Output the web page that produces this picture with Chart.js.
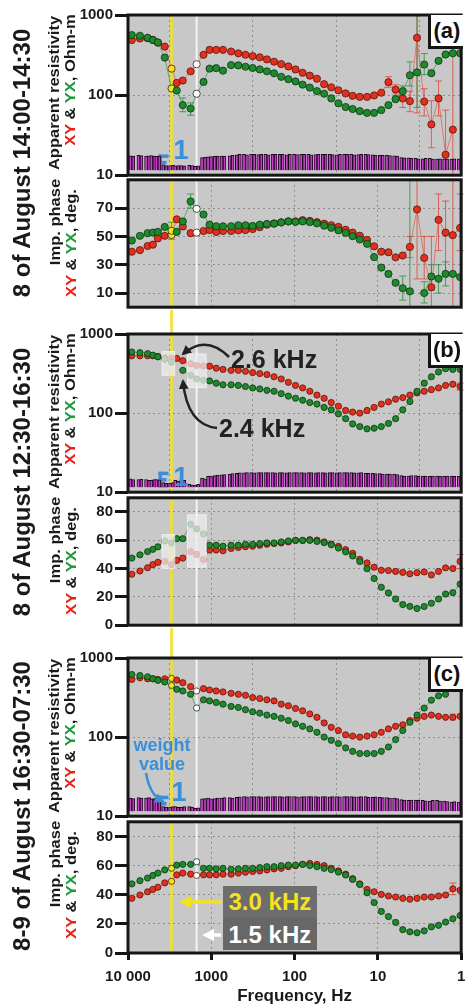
<!DOCTYPE html>
<html><head><meta charset="utf-8">
<script src="https://cdn.jsdelivr.net/npm/chart.js@4.4.1/dist/chart.umd.min.js"></script>
<style>
html,body{margin:0;padding:0;background:#fff;}
#wrap{position:relative;width:466px;height:1008px;overflow:hidden;font-family:"Liberation Sans",Arial,Helvetica,sans-serif;color:#1a1a1a;}
#wrap canvas{position:absolute;left:0;}
.rot,.txt{position:absolute;white-space:nowrap;line-height:1;}
.red{color:#e8221a}.grn{color:#1d9a3a}
.pbox{position:absolute;box-sizing:border-box;background:#fff;border-left:3px solid #151515;border-bottom:3px solid #151515;}
.kbox{position:absolute;background:#6d6d6d;}
svg{position:absolute;left:0;top:0;}
</style></head>
<body><div id="wrap">
<canvas id="ra"></canvas><canvas id="pa"></canvas>
<canvas id="rb"></canvas><canvas id="pb"></canvas>
<canvas id="rc"></canvas><canvas id="pc"></canvas>
</div>
<script>
// ---------------- DATA ----------------
const FREQ_HZ = [9000,7190,5820,5030,4380,3620,3000,2600,2200,1770,1500,1240,1050,873,724,578,474,389,319,262,215,176.5,144.8,118.9,97.5,80.1,65.7,53.9,44.2,36.3,29.8,24.4,20.1,16.5,13.5,11.1,9.10,7.47,6.13,5.03,4.13,3.39,2.78,2.28,1.87,1.54,1.26,1.03];
const X_TICKS = [10000,1000,100,10,1];
const X_TICK_LABELS = ['10 000','1000','100','10','1'];
const RHO_TICKS = [10,100,1000];
const PHASE_TICKS_A = [10,30,50,70];
const PHASE_TICKS_BC = [0,10,20,30,40,50,60,70,80];
const YELLOW_LINE_HZ = 3000, WHITE_LINE_HZ = 1500;

// panel (a) 8 Aug 14:00-14:30
const rhoXY_a = [487,509,513,490,451,403,214,142,152,198,243,318,367,367,367,350,332,319,307,296,279,261,244,228,209,190,175,160,137,125,115,105,98,95,95,99,107,145,117,91,84,520,83,43,91,18,37,null];
const rhoYX_a = [561,551,520,487,455,294,121,114,75,68,104,146,214,217,202,237,235,226,218,209,198,187,169,158,148,135,124,112,104,91,79,71,67,63,60,60,65,75,89,112,177,192,241,188,268,321,333,333];
const phiXY_a = [39.2,40.3,43.2,44.2,48.6,50.4,51,62.1,57,52.3,52.7,53.8,54.5,53.2,53.8,53.8,54.3,54.5,55.2,56.5,58.3,59.2,59.9,60.6,60.6,61.5,61.0,60.1,59.0,57.9,56.7,54.7,52.7,50.5,47.5,43.0,39.2,38.8,35.2,36.5,42.6,69.1,34.8,14.1,61.7,52.7,50.9,56];
const phiYX_a = [47.1,50.4,52.3,52.7,53.2,56.7,54,53.2,60.6,74.7,69.5,65.5,58.3,57.2,57.2,57.2,57.9,57.9,57.4,58.3,58.8,59.0,59.9,60.6,60.3,60.6,60.1,59.2,57.6,56.1,54.3,52.5,50.2,47.8,44.8,35.4,28.0,23.5,17.2,13.4,11.2,null,10.0,21.7,20.1,23.5,23.5,21.3];
const wXY_a = [0.92,0.95,0.9,0.93,0.88,0.35,0.3,0.28,0.3,0.32,0.25,0.8,0.85,0.88,0.9,0.92,0.98,1,1,0.99,1,1,1,0.98,1,1,1,0.99,1,1,0.98,1,1,0.99,1,0.98,0.95,0.95,0.92,0.8,0.78,0.75,0.72,0.75,0.7,0.72,0.7,0.72];
const wYX_a = [0.9,0.93,0.92,0.9,0.9,0.3,0.32,0.3,0.28,0.3,0.28,0.82,0.86,0.9,0.9,0.95,1,0.98,1,1,0.98,1,1,1,0.99,1,0.98,1,1,0.99,1,1,0.98,1,0.99,0.96,0.95,0.93,0.9,0.78,0.75,0.72,0.75,0.7,0.72,0.7,0.72,0.7];
const errRhoXY_a = {37:[125,170],38:[100,135],39:[70,115],40:[62,112],41:[60,2000],42:[55,120],43:[22,85],44:[55,150],45:[12,65],46:[9,2000]};
const errRhoYX_a = {8:[62,92],9:[56,80],39:[95,130],40:[130,260],41:[70,2000],42:[180,330]};
const errPhiXY_a = {40:[35,50],41:[20,95],42:[20,50],43:[0,50],44:[40,80],45:[25,75],46:[0,95],47:[40,80]};
const errPhiYX_a = {6:[48,60],9:[70,80],39:[5,22],40:[0,95],42:[3,18],43:[12,30],44:[10,30],45:[15,32]};

// panel (b) 8 Aug 12:30-16:30
const rhoXY_b = [530,530,530,530,520,500,490,491,460,420,400,395,392,370,357,347,347,338,325,316,307,288,270,245,224,208,189,169,154,136,122,108,103,100,108,118,130,139,150,157,169,180,189,198,208,224,232,217];
const rhoYX_b = [592,581,565,540,514,480,440,null,347,300,270,260,255,239,228,228,224,217,208,202,194,189,176,164,154,145.5,136,130,118,110,98,85,73,67.5,63.2,64.4,67.5,74,85,110,140,189,239,288,331,364,357,357];
const phiXY_b = [36.0,38.3,40.6,42.8,44.4,45.1,42.8,45.8,47.4,52.0,50,46.3,53.1,53.1,52.6,54.2,54.9,55.4,55.8,56.5,57.2,57.7,58.1,58.8,59.9,59.9,60.4,60.1,58.8,57.3,55.7,53.4,50.8,46.6,44.0,41.0,38.8,38.6,38.0,37.3,36.3,37.1,37.6,35.5,38.0,40.5,40.0,45.1];
const phiYX_b = [47.4,49.7,52.0,53.6,55.4,59.5,58.1,61.1,61.1,71.3,68,64.5,56.5,56.5,55.8,56.5,56.5,57.2,57.2,57.7,58.1,58.1,58.8,59.5,59.9,59.9,59.9,59.2,58.3,56.8,54.5,51.8,48.9,45.0,39.9,33.0,26.8,22.8,18.5,14.6,13.3,11.8,13.2,15.5,18.5,22.0,23.0,29];
const wXY_b = [0.55,0.5,0.5,0.45,0.5,0.3,0.25,0.45,0.5,0.2,0.15,0.6,0.7,0.75,0.8,0.85,0.9,0.92,0.95,0.95,0.95,0.95,0.95,0.92,0.95,0.95,0.95,0.92,0.95,0.95,0.92,0.95,0.95,0.92,0.9,0.9,0.88,0.85,0.85,0.75,0.72,0.75,0.72,0.7,0.72,0.7,0.72,0.7];
const wYX_b = [0.5,0.52,0.45,0.5,0.48,0.25,0.3,0.4,0.45,0.15,0.2,0.55,0.72,0.78,0.82,0.88,0.92,0.95,0.92,0.95,0.95,0.92,0.95,0.95,0.95,0.92,0.95,0.95,0.92,0.95,0.95,0.95,0.92,0.95,0.9,0.88,0.85,0.85,0.82,0.72,0.75,0.7,0.72,0.72,0.7,0.72,0.7,0.72];
const errRhoXY_b = {47:[195,240]};
const errPhiXY_b = {47:[40,50]};
const MASKS_B_RHO = [[3900,2750,300,600],[1930,1150,210,560]];
const MASKS_B_PHI = [[3900,2750,40,64],[1930,1150,41,78]];

// panel (c) 8-9 Aug 16:30-07:30
const rhoXY_c = [536,562,546,546,536,546,552,526,487,434,383,410,394,383,372,358,348,338,316,307,296,287,261,249,230,215,196,178,151,133,121,107,103,100,103,107,115,127,137,143,162,173,183,190,183,178,178,183];
const rhoYX_c = [619,601,579,546,521,497,451,402,383,348,233,296,287,274,261,244,237,222,209,201,190,183,173,162,147,137,127,115,100,91,83,73,66,62,62,62,66,75,93,121,154,190,233,293,332,348,null,null];
const phiXY_c = [37.5,39.8,42.0,43.6,45.1,48.1,49.2,53.6,54.8,54.1,53.2,53.6,53.6,53.6,54.1,54.1,54.8,55.4,55.9,56.3,57.0,57.7,58.1,59.2,59.9,60.8,61.5,60.8,59.9,58.1,56.3,54.1,51.0,47.4,43.6,42.0,40.2,39.1,38.4,37.5,36.9,37.5,38.4,38.4,39.1,39.8,44,43];
const phiYX_c = [47.4,49.6,51.4,53.2,54.8,57.0,58.1,60.3,60.8,60.8,62.6,58.1,58.1,57.7,58.1,57.4,57.7,58.1,58.1,58.6,59.2,59.2,59.9,60.3,60.3,60.8,60.0,59.2,58.1,57.2,55.5,53.5,50.5,47.0,41.3,34.6,28.5,25.0,21.0,16.0,14.5,13.9,15.2,17.9,19.0,21.2,23.5,25.7];
const wXY_c = [0.85,0.88,0.85,0.8,0.82,0.3,0.28,0.3,0.25,0.3,0.2,0.8,0.85,0.82,0.85,0.88,0.9,0.95,0.95,0.95,0.92,0.95,0.95,0.95,0.95,0.92,0.95,0.95,0.95,0.92,0.95,0.95,0.95,0.92,0.95,0.9,0.9,0.88,0.85,0.75,0.7,0.72,0.7,0.65,0.7,0.65,0.6,0.6];
const wYX_c = [0.82,0.85,0.88,0.82,0.8,0.28,0.3,0.25,0.3,0.28,0.22,0.82,0.8,0.85,0.88,0.85,0.92,0.92,0.95,0.92,0.95,0.95,0.92,0.95,0.92,0.95,0.95,0.92,0.95,0.95,0.92,0.95,0.92,0.95,0.9,0.92,0.88,0.85,0.82,0.72,0.72,0.7,0.68,0.7,0.65,0.62,0.62,0.6];
const errRhoXY_c = {46:[165,195]};
const errPhiXY_c = {46:[40,48]};

// ---------------- STYLE ----------------
const FONT = "'Liberation Sans', Arial, sans-serif";
const RED = '#e3301e', RED_EDGE = '#5a140a', RED_LINE = 'rgba(226,70,55,0.6)';
const GRN = '#1e8a2d', GRN_EDGE = '#0b3512', GRN_LINE = 'rgba(40,140,60,0.6)';
const PLOT_BG = '#c8c8c8', GRID = '#8e8e8e', FRAME = '#161616';
const YEL = '#f3e21c';
const BLUE = '#3a8fd8';

const panelPlugin = {
  id: 'panel',
  beforeDraw(chart) {
    const {ctx, chartArea: a} = chart;
    ctx.save(); ctx.fillStyle = PLOT_BG;
    ctx.fillRect(a.left, a.top, a.right - a.left, a.bottom - a.top);
    ctx.restore();
  },
  beforeDatasetsDraw(chart, args, o) {
    const {ctx, chartArea: a, scales} = chart;
    const xs = scales.x, ys = scales.y;
    ctx.save();
    const xw = xs.getPixelForValue(WHITE_LINE_HZ);
    ctx.strokeStyle = '#f4f4f4'; ctx.lineWidth = 2;
    ctx.beginPath(); ctx.moveTo(xw, a.top); ctx.lineTo(xw, a.bottom); ctx.stroke();
    const xy = xs.getPixelForValue(YELLOW_LINE_HZ);
    ctx.strokeStyle = YEL; ctx.lineWidth = 2.5;
    ctx.beginPath(); ctx.moveTo(xy, o.lineFromTop ? 0 : a.top); ctx.lineTo(xy, a.bottom); ctx.stroke();
    (o.err || []).forEach(e => {
      ctx.strokeStyle = e.color; ctx.lineWidth = 1;
      Object.keys(e.map).forEach(k => {
        const i = +k, lo = e.map[k][0], hi = e.map[k][1];
        const x = xs.getPixelForValue(FREQ_HZ[i]);
        const y1 = Math.min(Math.max(ys.getPixelForValue(hi), a.top), a.bottom);
        const y2 = Math.min(Math.max(ys.getPixelForValue(lo), a.top), a.bottom);
        ctx.beginPath(); ctx.moveTo(x, y1); ctx.lineTo(x, y2);
        ctx.moveTo(x - 3.5, y1); ctx.lineTo(x + 3.5, y1);
        ctx.moveTo(x - 3.5, y2); ctx.lineTo(x + 3.5, y2); ctx.stroke();
      });
    });
    if (o.wMark) {
      const ws = scales.w;
      const x0 = xs.getPixelForValue(4300);
      const y0 = ws.getPixelForValue(0), y1 = ws.getPixelForValue(1);
      ctx.fillStyle = BLUE;
      ctx.fillRect(x0, y1, 3.5, y0 - y1);
      ctx.fillRect(x0, y1, 10, 3.5);
      ctx.fillRect(x0, (y0 + y1) / 2 - 1.5, 8, 3.5);
      ctx.fillRect(x0, y0 - 3.5, 10, 3.5);
    }
    ctx.restore();
  },
  afterDatasetsDraw(chart, args, o) {
    const {ctx, scales} = chart;
    if (!o.masks) return;
    ctx.save();
    o.masks.forEach(m => {
      const x1 = scales.x.getPixelForValue(m[0]), x2 = scales.x.getPixelForValue(m[1]);
      const y1 = scales.y.getPixelForValue(m[3]), y2 = scales.y.getPixelForValue(m[2]);
      ctx.fillStyle = 'rgba(236,236,236,0.75)';
      ctx.fillRect(x1, y1, x2 - x1, y2 - y1);
      ctx.strokeStyle = 'rgba(255,255,255,0.6)'; ctx.lineWidth = 1;
      ctx.strokeRect(x1, y1, x2 - x1, y2 - y1);
    });
    ctx.restore();
  },
  afterDraw(chart) {
    const {ctx, chartArea: a} = chart;
    ctx.save(); ctx.strokeStyle = FRAME; ctx.lineWidth = 3;
    ctx.strokeRect(a.left, a.top, a.right - a.left, a.bottom - a.top);
    ctx.restore();
  }
};

function series(arr) { return arr.map((v, i) => ({x: FREQ_HZ[i], y: v})); }
function fills(base, mark) {
  return FREQ_HZ.map((f, i) => mark && f === YELLOW_LINE_HZ ? YEL : (mark && f === WHITE_LINE_HZ ? '#ffffff' : base));
}

function makeChart(id, s) {
  const cv = document.getElementById(id);
  cv.width = 466; cv.height = s.h; cv.style.top = s.top + 'px';
  const isRho = s.kind === 'rho';
  const r = s.r;
  const ds = [
    {type: 'line', data: series(s.yx), borderColor: GRN_LINE, borderWidth: 1, pointRadius: r,
     pointBackgroundColor: fills(GRN, s.mark), pointBorderColor: GRN_EDGE, pointBorderWidth: 0.8, yAxisID: 'y', order: 1},
    {type: 'line', data: series(s.xy), borderColor: RED_LINE, borderWidth: 1, pointRadius: r,
     pointBackgroundColor: fills(RED, s.mark), pointBorderColor: RED_EDGE, pointBorderWidth: 0.8, yAxisID: 'y', order: 2}
  ];
  if (isRho) {
    ds.push({type: 'bar', data: series(s.wxy), backgroundColor: '#c840cc', borderColor: '#1e0620', borderWidth: 1, barThickness: 3, yAxisID: 'w', order: 5});
    ds.push({type: 'bar', data: series(s.wyx), backgroundColor: '#bf3ac2', borderColor: '#1e0620', borderWidth: 1, barThickness: 3, yAxisID: 'w', order: 5});
  }
  const tickFont = {family: FONT, size: 15, weight: 'bold'};
  const yScale = isRho ? {
    type: 'logarithmic', min: 10, max: 1000,
    afterBuildTicks: sc => { sc.ticks = RHO_TICKS.map(v => ({value: v})); },
    ticks: {callback: v => String(v), font: tickFont, color: '#1a1a1a', padding: 2}
  } : {
    type: 'linear', min: 0, max: 90,
    afterBuildTicks: sc => { sc.ticks = s.phTicks.map(v => ({value: v})); },
    ticks: {callback: v => (s.phTicks === PHASE_TICKS_A || v % 20 === 0) ? String(v) : '', font: tickFont, color: '#1a1a1a', padding: 2}
  };
  Object.assign(yScale, {
    position: 'left',
    grid: {color: GRID, lineWidth: 1, drawTicks: true, tickLength: 13, tickColor: '#151515',
           tickWidth: c => (s.phTicks === PHASE_TICKS_BC && c.tick && c.tick.value % 20 !== 0) ? 2 : 3},
    border: {display: false, dash: [2, 3]},
    afterFit: sc => { sc.width = 128; sc.paddingTop = 0; sc.paddingBottom = 0; }
  });
  const scales = {
    x: {
      type: 'logarithmic', reverse: true, min: 1, max: 10000, position: 'bottom',
      afterBuildTicks: sc => { sc.ticks = X_TICKS.map(v => ({value: v})); },
      ticks: {display: !!s.bottom, autoSkip: false, maxRotation: 0, padding: 8, font: tickFont, color: '#1a1a1a',
              callback: v => X_TICK_LABELS[X_TICKS.indexOf(v)]},
      grid: {color: GRID, lineWidth: 1, drawTicks: !!s.bottom, tickLength: 7, tickColor: '#151515', tickWidth: 3},
      border: {display: false, dash: [2, 3]},
      title: {display: !!s.bottom, text: 'Frequency, Hz', font: {family: FONT, size: 17, weight: 'bold'}, color: '#1a1a1a', padding: {top: 0, bottom: 1}},
      afterFit: sc => { sc.height = s.bottom ? 55 : 0; sc.paddingLeft = 0; sc.paddingRight = 0; }
    },
    y: yScale
  };
  if (isRho) scales.w = {type: 'linear', display: false, min: -0.31, max: 9.8};
  return new Chart(cv, {
    type: 'line',
    data: {datasets: ds},
    options: {
      responsive: false, animation: false, events: [],
      layout: {padding: {top: s.padTop, bottom: s.padBottom, left: 0, right: 4}},
      plugins: {legend: {display: false}, tooltip: {enabled: false},
                panel: {lineFromTop: s.lineFromTop, err: s.err, wMark: isRho, masks: s.masks}},
      scales
    },
    plugins: [panelPlugin]
  });
}

const E = (m, c) => ({map: m, color: c});
const RC = 'rgba(225,60,45,0.75)', GC = 'rgba(30,140,50,0.75)';
makeChart('ra', {kind: 'rho', top: 0, h: 180, padTop: 15, padBottom: 3, r: 3.6, mark: true, xy: rhoXY_a, yx: rhoYX_a, wxy: wXY_a, wyx: wYX_a, err: [E(errRhoXY_a, RC), E(errRhoYX_a, GC)]});
makeChart('pa', {kind: 'phi', top: 175, h: 137, padTop: 2, padBottom: 2, r: 3.6, mark: true, xy: phiXY_a, yx: phiYX_a, phTicks: PHASE_TICKS_A, err: [E(errPhiXY_a, RC), E(errPhiYX_a, GC)]});
makeChart('rb', {kind: 'rho', top: 310, h: 187, padTop: 24, padBottom: 2, r: 3.1, mark: false, lineFromTop: true, xy: rhoXY_b, yx: rhoYX_b, wxy: wXY_b, wyx: wYX_b, err: [E(errRhoXY_b, RC)], masks: MASKS_B_RHO});
makeChart('pb', {kind: 'phi', top: 493, h: 137, padTop: 2, padBottom: 2, r: 3.1, mark: false, xy: phiXY_b, yx: phiYX_b, phTicks: PHASE_TICKS_BC, err: [E(errPhiXY_b, RC)], masks: MASKS_B_PHI});
makeChart('rc', {kind: 'rho', top: 628, h: 193, padTop: 30, padBottom: 2, r: 3.1, mark: true, lineFromTop: true, xy: rhoXY_c, yx: rhoYX_c, wxy: wXY_c, wyx: wYX_c, err: [E(errRhoXY_c, RC)]});
makeChart('pc', {kind: 'phi', top: 817, h: 191, padTop: 2, padBottom: 0, r: 3.1, mark: true, bottom: true, xy: phiXY_c, yx: phiYX_c, phTicks: PHASE_TICKS_BC, err: [E(errPhiXY_c, RC)]});

// ---------------- TEXT ----------------
const wrap = document.getElementById('wrap');
function rot(html, cx, cy, scale, size, weight) {
  const d = document.createElement('div'); d.className = 'rot'; d.innerHTML = html;
  d.style.fontSize = size + 'px'; d.style.fontWeight = weight;
  wrap.appendChild(d);
  const w = d.offsetWidth, h = d.offsetHeight;
  d.style.left = (cx - w / 2) + 'px'; d.style.top = (cy - h / 2) + 'px';
  d.style.transform = 'rotate(-90deg) scaleX(' + scale + ')';
}
function txt(html, cx, cy, size, color) {
  const d = document.createElement('div'); d.className = 'txt'; d.innerHTML = html;
  d.style.fontSize = size + 'px'; d.style.fontWeight = 'bold'; d.style.color = color;
  wrap.appendChild(d);
  const w = d.offsetWidth, h = d.offsetHeight;
  d.style.left = (cx - w / 2) + 'px'; d.style.top = (cy - h / 2) + 'px';
  return d;
}
const RES2 = '<span class="red">XY</span> &amp; <span class="grn">YX</span>, Ohm-m';
const PH2 = '<span class="red">XY</span> &amp; <span class="grn">YX</span>, deg.';
const SUB = 1.18;
[[0, 0, '8 of August 14:00-14:30'], [319, 318, '8 of August 12:30-16:30'], [643, 642, '8-9 of August 16:30-07:30']].forEach(([dy, dp, t]) => {
  rot(t, 22, 163 + dy, 1, 24, 'bold');
  rot('Apparent resistivity', 54, 93 + dy, SUB, 14, 'bold');
  rot(RES2, 70, 80 + dy, SUB, 14, 'bold');
  rot('Imp. phase', 54, 222 + dp, SUB, 14, 'bold');
  rot(PH2, 70, 243 + dp, SUB, 14, 'bold');
});
[['(a)', 15], ['(b)', 334], ['(c)', 658]].forEach(([t, y]) => {
  const b = document.createElement('div'); b.className = 'pbox';
  Object.assign(b.style, {left: '428px', top: y + 'px', width: '35px', height: '34px'});
  wrap.appendChild(b);
  txt(t, 447, y + 16, 22, '#111');
});
txt('1', 181, 150, 27, BLUE); txt('1', 181, 477, 27, BLUE); txt('1', 179, 792, 27, BLUE);
txt('weight', 162, 745, 18, BLUE); txt('value', 162, 764, 18, BLUE);
txt('2.6 kHz', 274, 359, 25, '#222');
txt('2.4 kHz', 262, 428, 25, '#222');
const k1 = document.createElement('div'); k1.className = 'kbox'; Object.assign(k1.style, {left: '223px', top: '886px', width: '94px', height: '32px'}); wrap.appendChild(k1);
const k2 = document.createElement('div'); k2.className = 'kbox'; Object.assign(k2.style, {left: '223px', top: '918px', width: '94px', height: '32px', background: '#676767'}); wrap.appendChild(k2);
txt('3.0 kHz', 270, 902, 24, YEL);
txt('1.5 kHz', 270, 935, 24, '#ffffff');
const svgNS = 'http://www.w3.org/2000/svg';
const svg = document.createElementNS(svgNS, 'svg');
svg.setAttribute('width', 466); svg.setAttribute('height', 1008);
svg.innerHTML = `
<defs>
 <marker id="hk" viewBox="0 0 10 10" refX="8" refY="5" markerWidth="4" markerHeight="4" orient="auto"><path d="M0,0 L10,5 L0,10 z" fill="#222"/></marker>
 <marker id="hb" viewBox="0 0 10 10" refX="8" refY="5" markerWidth="4" markerHeight="4" orient="auto"><path d="M0,0 L10,5 L0,10 z" fill="${BLUE}"/></marker>
 <marker id="hy" viewBox="0 0 10 10" refX="6" refY="5" markerWidth="3.5" markerHeight="3.5" orient="auto"><path d="M0,0 L10,5 L0,10 z" fill="${YEL}"/></marker>
 <marker id="hw" viewBox="0 0 10 10" refX="6" refY="5" markerWidth="3.5" markerHeight="3.5" orient="auto"><path d="M0,0 L10,5 L0,10 z" fill="#fff"/></marker>
</defs>
<path d="M229,357 Q206,334 183,354" stroke="#222" stroke-width="2.5" fill="none" marker-end="url(#hk)"/>
<path d="M217,428 Q187,425 183,381" stroke="#222" stroke-width="2.5" fill="none" marker-end="url(#hk)"/>
<path d="M146,773 Q150,796 163,801" stroke="${BLUE}" stroke-width="2.5" fill="none" marker-end="url(#hb)"/>
<path d="M222,902 L184,902" stroke="${YEL}" stroke-width="3.5" fill="none" marker-end="url(#hy)"/>
<path d="M221,935 L207,935" stroke="#fff" stroke-width="3.5" fill="none" marker-end="url(#hw)"/>`;
wrap.appendChild(svg);
</script>
</body></html>
